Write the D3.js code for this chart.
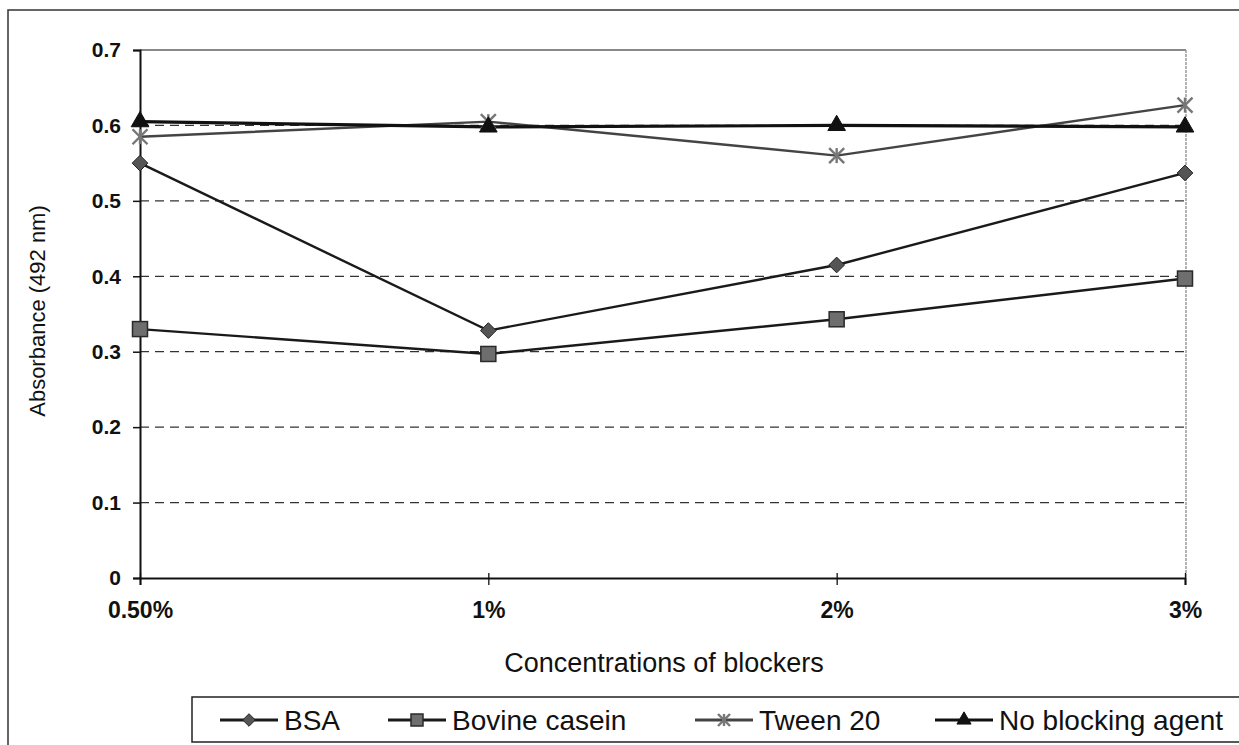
<!DOCTYPE html>
<html><head><meta charset="utf-8">
<script src="https://cdn.jsdelivr.net/npm/d3@7"></script>
<style>body{margin:0;background:#fff}svg{display:block}text{font-family:"Liberation Sans",Arial,sans-serif}</style>
</head><body><svg id="c" width="1239" height="745"></svg>
<script>
const categories = ["0.50%", "1%", "2%", "3%"];
const bsa = [0.55, 0.328, 0.415, 0.537];
const casein = [0.33, 0.297, 0.343, 0.397];
const tween = [0.585, 0.605, 0.56, 0.627];
const noBlock = [0.605, 0.598, 0.6, 0.598];
const seriesNames = ["BSA", "Bovine casein", "Tween 20", "No blocking agent"];
const yTicks = [0, 0.1, 0.2, 0.3, 0.4, 0.5, 0.6, 0.7];

const svg = d3.select("#c");
const L = 140, R = 1186, T = 50, B = 578;
const x = d3.scalePoint().domain(categories).range([L, R - 1]).padding(0);
const y = d3.scaleLinear().domain([0, 0.7]).range([B, T]);

// outer frame
svg.append("rect").attr("x", 8).attr("y", 10).attr("width", 1240).attr("height", 760)
  .attr("fill", "none").attr("stroke", "#333").attr("stroke-width", 1.5);

// gridlines
svg.append("g").selectAll("line").data(yTicks.filter(d => d > 0 && d < 0.7)).join("line")
  .attr("x1", L).attr("x2", R).attr("y1", d => y(d)).attr("y2", d => y(d))
  .attr("stroke", "#333").attr("stroke-width", 1.3).attr("stroke-dasharray", "9,6");
// top and right border of plot
svg.append("line").attr("x1", L).attr("x2", R).attr("y1", y(0.7)).attr("y2", y(0.7))
  .attr("stroke", "#888").attr("stroke-width", 2);
svg.append("line").attr("x1", R).attr("x2", R).attr("y1", y(0.7)).attr("y2", B)
  .attr("stroke", "#999").attr("stroke-width", 1.5).attr("stroke-dasharray", "3,1");

// y axis
const ya = svg.append("g").attr("transform", `translate(${L},0)`)
  .call(d3.axisLeft(y).tickValues(yTicks).tickFormat(d => d === 0 ? "0" : d3.format(".1f")(d)).tickSize(7).tickPadding(12));
ya.select(".domain").attr("stroke", "#111").attr("stroke-width", 2);
ya.selectAll(".tick line").attr("stroke", "#111").attr("stroke-width", 1.5);
ya.selectAll("text").attr("font-size", 21).attr("font-weight", "bold").attr("fill", "#111")
  .style("font-family", '"Liberation Sans",Arial,sans-serif');

// x axis
const xa = svg.append("g").attr("transform", `translate(0,${B})`)
  .call(d3.axisBottom(x).tickSize(7).tickPadding(17));
xa.select(".domain").attr("stroke", "#111").attr("stroke-width", 2);
xa.selectAll(".tick line").attr("stroke", "#111").attr("stroke-width", 1.3).attr("y1", -5);
xa.selectAll("text").attr("font-size", 23).attr("font-weight", "bold").attr("fill", "#111")
  .style("font-family", '"Liberation Sans",Arial,sans-serif');

// titles
svg.append("text").attr("x", 664).attr("y", 672).attr("text-anchor", "middle")
  .attr("font-size", 27).attr("fill", "#111").text("Concentrations of blockers");
svg.append("text").attr("transform", "translate(45,311) rotate(-90)").attr("text-anchor", "middle")
  .attr("font-size", 22).attr("fill", "#111").text("Absorbance (492 nm)");

// markers
function marker(g, type, cx, cy, s) {
  if (type === 0) {
    g.append("path").attr("d", d3.symbol(d3.symbolDiamond2, s * s * 0.7)())
      .attr("transform", `translate(${cx},${cy})`).attr("fill", "#555").attr("stroke", "#222").attr("stroke-width", 1);
  } else if (type === 1) {
    g.append("rect").attr("x", cx - s / 2).attr("y", cy - s / 2).attr("width", s).attr("height", s)
      .attr("fill", "#6e6e6e").attr("stroke", "#2a2a2a").attr("stroke-width", 1.5);
  } else if (type === 2) {
    const r = s / 2;
    const gg = g.append("g").attr("transform", `translate(${cx},${cy})`).attr("stroke", "#777").attr("stroke-width", 2.4);
    gg.append("line").attr("x1", -r).attr("y1", -r).attr("x2", r).attr("y2", r);
    gg.append("line").attr("x1", -r).attr("y1", r).attr("x2", r).attr("y2", -r);
    gg.append("line").attr("x1", 0).attr("y1", -r).attr("x2", 0).attr("y2", r);
  } else {
    g.append("path").attr("d", d3.symbol(d3.symbolTriangle, s * s * 0.6)())
      .attr("transform", `translate(${cx},${cy})`).attr("fill", "#111").attr("stroke", "#111");
  }
}

const allSeries = [bsa, casein, tween, noBlock];
const lineColors = ["#1a1a1a", "#1a1a1a", "#444", "#111"];
const lineWidths = [2.4, 2.4, 2.4, 3.2];
const line = d3.line().x((d, i) => x(categories[i])).y(d => y(d));
const plot = svg.append("g");
[1, 0, 2, 3].forEach(k => {
  plot.append("path").datum(allSeries[k]).attr("d", line).attr("fill", "none")
    .attr("stroke", lineColors[k]).attr("stroke-width", lineWidths[k]);
});
[1, 0, 2, 3].forEach(k => {
  allSeries[k].forEach((v, i) => marker(plot, k, x(categories[i]), y(v), 15));
});

// legend
svg.append("rect").attr("x", 192).attr("y", 697).attr("width", 1060).attr("height", 45)
  .attr("fill", "#fff").attr("stroke", "#222").attr("stroke-width", 1.5);
const legX = [220, 388, 695, 935];
const lg = svg.append("g");
seriesNames.forEach((n, k) => {
  const x0 = legX[k], cy = 720;
  lg.append("line").attr("x1", x0).attr("x2", x0 + 58).attr("y1", cy).attr("y2", cy)
    .attr("stroke", lineColors[k]).attr("stroke-width", 3);
  marker(lg, k, x0 + 29, cy, 12);
  lg.append("text").attr("x", x0 + 64).attr("y", cy + 10).attr("font-size", 28).attr("fill", "#111").text(n);
});
</script></body></html>
